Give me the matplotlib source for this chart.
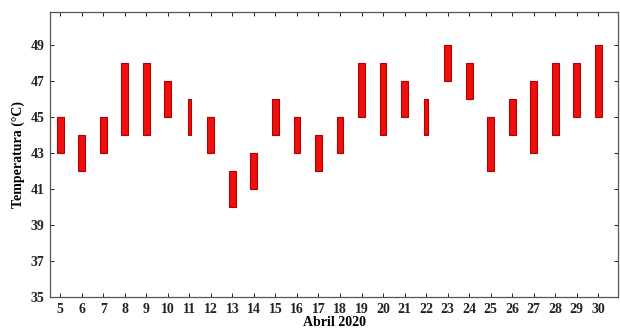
import numpy as np
import matplotlib.pyplot as plt

plt.rcParams["font.family"] = ["Liberation Serif", "DejaVu Serif"]
plt.rcParams["font.weight"] = "bold"

# daily min / max temperature, April 2020
dias = list(range(5, 31))
t_min = [43, 42, 43, 44, 44, 45, 44, 43, 40, 41, 44, 43, 42,
         43, 45, 44, 45, 44, 47, 46, 42, 44, 43, 44, 45, 45]
t_max = [45, 44, 45, 48, 48, 47, 46, 45, 42, 43, 46, 45, 44,
         45, 48, 48, 47, 46, 49, 48, 45, 46, 47, 48, 48, 49]
# days drawn with a thinner bar
finos = [11, 22]


def main():
    fig = plt.figure(figsize=(6.2, 3.35), dpi=100)
    ax = fig.add_axes([0.081, 0.113, 0.916, 0.851])

    dias_a = np.array(dias)
    lo = np.array(t_min)
    hi = np.array(t_max)
    anchos = np.where(np.isin(dias_a, finos), 0.17, 0.32)

    ax.bar(dias_a, hi - lo, bottom=lo, width=anchos,
           color="#ee0f0f", edgecolor="#b00000", linewidth=0.8)

    ax.set_xlim(4.53, 30.93)
    ax.set_ylim(35, 50.8)
    ax.set_xticks(dias)
    ax.set_yticks(np.arange(35, 50, 2))
    ax.tick_params(direction="in", length=3, width=0.7, top=True, right=True,
                   labelsize=10, pad=4, colors="#222222")
    for lab in ax.get_xticklabels() + ax.get_yticklabels():
        lab.set_fontweight("bold")
    for s in ax.spines.values():
        s.set_linewidth(0.9)
        s.set_color("#555555")

    ax.set_ylabel("Temperatura (°C)", fontsize=10, fontweight="bold", labelpad=4)
    ax.set_xlabel("Abril 2020", fontsize=10, fontweight="bold", labelpad=0)

    fig.savefig("out.png", dpi=100)


if __name__ == "__main__":
    main()
